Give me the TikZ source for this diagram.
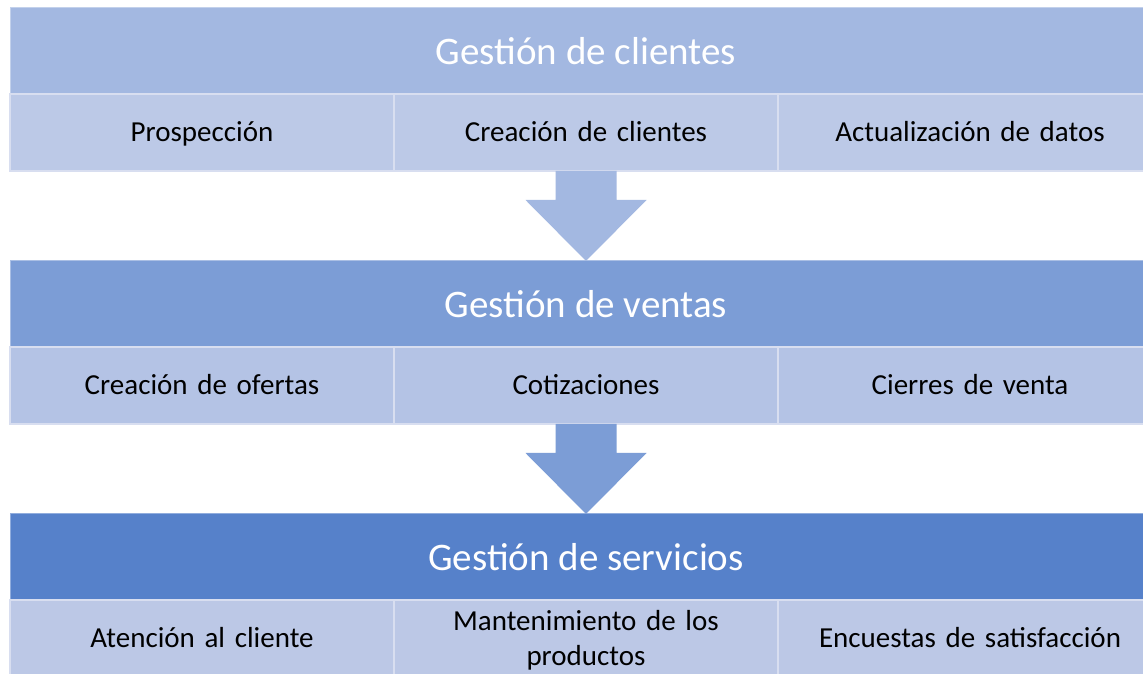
\documentclass[tikz,border=0pt]{standalone}
\usepackage{fontspec}
\setmainfont{Carlito}
\usetikzlibrary{positioning,calc}

\definecolor{hclientes}{HTML}{A3B8E1}
\definecolor{hventas}{HTML}{7C9DD6}
\definecolor{hservicios}{HTML}{5681CA}
\definecolor{cclientes}{HTML}{BCC9E7}
\definecolor{cventas}{HTML}{B4C3E5}
\definecolor{cservicios}{HTML}{BCC8E6}
\definecolor{cellline}{HTML}{D8DEF0}

\newcommand{\cellstrut}{\rule[-7.2pt]{0pt}{33.2pt}}

\tikzset{
  head/.style={rectangle, draw=white!35!#1, fill=#1, line width=1pt, outer sep=0pt,
    minimum width=1152pt, minimum height=86pt, inner sep=0pt, text=white,
    font=\fontsize{39}{47}\selectfont},
  cell/.style={rectangle, draw=cellline, fill=#1, line width=1.5pt, outer sep=0pt,
    minimum width=384pt, minimum height=77pt, inner sep=0pt, text width=370pt,
    align=center, font=\fontsize{29}{35}\selectfont,
    execute at begin node=\cellstrut, execute at end node=\cellstrut},
  blockarrow/.style={fill=#1, draw=none}
}

\begin{document}
\begin{tikzpicture}[x=1pt,y=1pt,node distance=90pt]
\clip (0,0) rectangle (1143,674);
\fill[white] (0,0) rectangle (1143,674);

% Gestion de clientes
\node[head=hclientes] (hc) at (586,623) {Gestión de clientes};
\node[cell=cclientes, below=0pt of hc.south west, anchor=north west] (c11) {Prospección};
\node[cell=cclientes, right=0pt of c11] (c12) {Creación de clientes};
\node[cell=cclientes, right=0pt of c12] (c13) {Actualización de datos};

% Gestion de ventas
\node[head=hventas, below=of c12] (hv) {Gestión de ventas};
\node[cell=cventas, below=0pt of hv.south west, anchor=north west] (c21) {Creación de ofertas};
\node[cell=cventas, right=0pt of c21] (c22) {Cotizaciones};
\node[cell=cventas, right=0pt of c22] (c23) {Cierres de venta};

% Gestion de servicios
\node[head=hservicios, below=of c22] (hs) {Gestión de servicios};
\node[cell=cservicios, below=0pt of hs.south west, anchor=north west] (c31) {Atención al cliente};
\node[cell=cservicios, right=0pt of c31] (c32) {Mantenimiento de los\\productos};
\node[cell=cservicios, right=0pt of c32] (c33) {Encuestas de satisfacción};

% flechas
\fill[blockarrow=hclientes] ($(c12.south)+(-30.5,0)$) -- ++(0,-29) -- ++(-30,0) -- (hv.north)
  -- ($(c12.south)+(60.5,-29)$) -- ++(-30,0) -- ($(c12.south)+(30.5,0)$) -- cycle;
\fill[blockarrow=hventas] ($(c22.south)+(-30.5,0)$) -- ++(0,-29) -- ++(-30,0) -- (hs.north)
  -- ($(c22.south)+(60.5,-29)$) -- ++(-30,0) -- ($(c22.south)+(30.5,0)$) -- cycle;
\end{tikzpicture}
\end{document}
